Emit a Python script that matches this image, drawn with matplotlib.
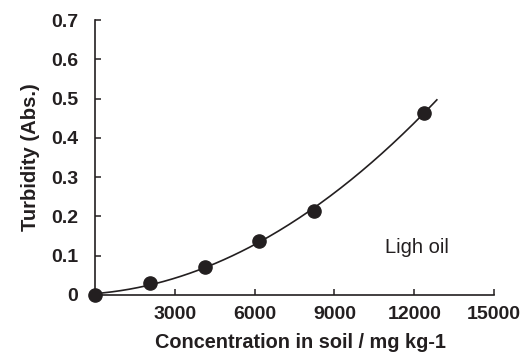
import numpy as np
import matplotlib
matplotlib.use("Agg")
import matplotlib.pyplot as plt

plt.rcParams['font.family'] = ['Liberation Sans', 'DejaVu Sans']

# measured concentrations (mg/kg) and turbidity readings
conc = [0, 2060, 4120, 6160, 8230, 12350]
turbidity = [0.0, 0.030, 0.070, 0.138, 0.214, 0.464]
x_ticks = [3000, 6000, 9000, 12000, 15000]
y_ticks = [0, 0.1, 0.2, 0.3, 0.4, 0.5, 0.6, 0.7]

ink = '#231f20'

fig = plt.figure(figsize=(5.29, 3.54), dpi=100)
ax = fig.add_axes([0.1796, 0.1667, 0.7543, 0.7768])

# second order fit through the points
coef = np.polyfit(conc, turbidity, 2)
xs = np.linspace(0, 12850, 200)
ax.plot(xs, np.polyval(coef, xs), color=ink, lw=1.2, clip_on=False)
ax.plot(conc, turbidity, 'o', color=ink, ms=9.5, clip_on=False, zorder=3)

ax.set_xlim(0, 15000)
ax.set_ylim(0, 0.7)
ax.set_xticks(x_ticks)
ax.set_yticks(y_ticks)
ax.set_yticklabels(['0'] + ['%.1f' % v for v in y_ticks[1:]])
ax.tick_params(direction='in', length=4, width=1.1, colors=ink, labelsize=14)
ax.tick_params(axis='y', pad=12)
ax.tick_params(axis='x', pad=8)
for lab in ax.get_xticklabels() + ax.get_yticklabels():
    lab.set_fontweight('bold')
    lab.set_color(ink)

for side in ['top', 'right']:
    ax.spines[side].set_visible(False)
for side in ['left', 'bottom']:
    ax.spines[side].set_linewidth(1.2)
    ax.spines[side].set_color(ink)

ax.set_xlabel('Concentration in soil / mg kg-1', fontsize=14.3, fontweight='bold',
              color=ink, labelpad=7)
ax.xaxis.label.set_x(0.514)
ax.set_ylabel('Turbidity (Abs.)', fontsize=14.6, fontweight='bold',
              color=ink, labelpad=8)
ax.text(10900, 0.12, 'Ligh oil', fontsize=14.5, color=ink, va='center')

fig.savefig('out.png', dpi=100)
